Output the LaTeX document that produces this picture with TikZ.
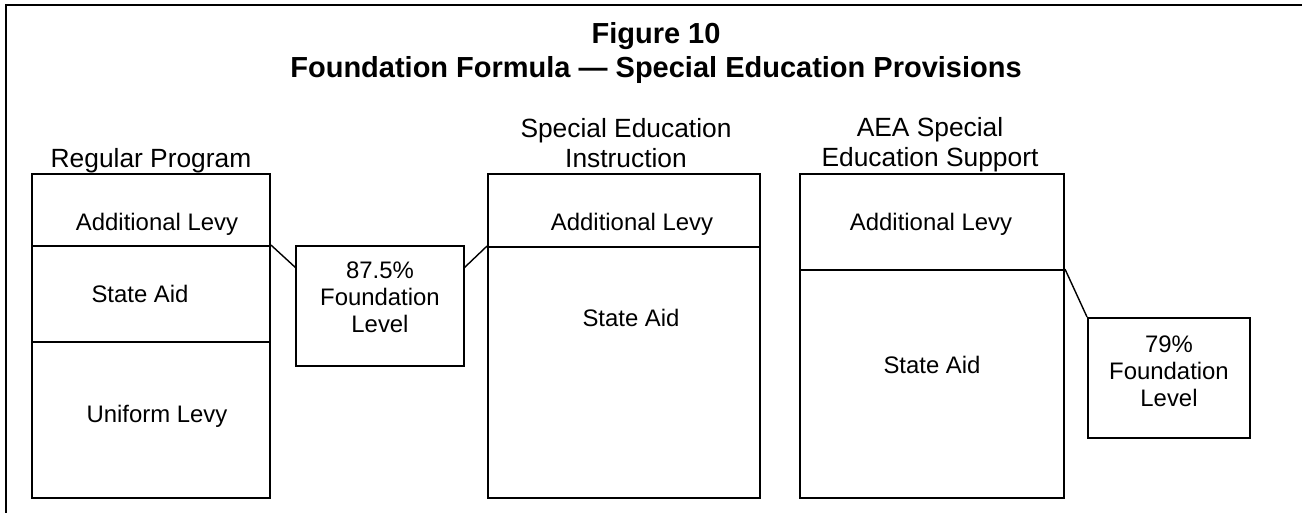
\documentclass[tikz,border=0pt]{standalone}
\usepackage{fontspec}
\setmainfont{Liberation Sans}
\usepackage{tikz}
\usetikzlibrary{positioning,fit}

\begin{document}
\begin{tikzpicture}[x=0.02cm,y=-0.02cm,
  seg/.style={draw,line width=1.1pt,inner sep=0pt},
  txt/.style={font=\fontsize{13.6}{15.4}\selectfont,inner sep=0pt},
  head/.style={font=\fontsize{15}{17}\selectfont,inner sep=0pt,align=center},
  link/.style={line width=0.8pt}]
\useasboundingbox (0,0) rectangle (1302,512);
\draw[line width=1.1pt] (6,514) |- (1304,5);

\node[font=\bfseries\fontsize{16.5}{19.3}\selectfont,align=center,inner sep=0pt] (title) at (656,53) {Figure 10\\Foundation Formula — Special Education Provisions};

\node[head,anchor=base] (rphead) at (151,167) {Regular Program};
\node[head] (sehead) at (626,143) {Special Education\\Instruction};
\node[head] (aeahead) at (930,145) {AEA Special\\Education Support};

% regular program
\node[seg,fit={(32,174) (270,246)}] (rpadd) {};
\node[seg,fit={(32,246) (270,342)}] (rpaid) {};
\node[seg,fit={(32,342) (270,498)}] (rpunif) {};
\node[txt,anchor=base] (rpaddtxt) at (157,230) {Additional Levy};
\node[txt,anchor=base] (rpaidtxt) at (140,302) {State Aid};
\node[txt,anchor=base] (rpuniftxt) at (157,422) {Uniform Levy};

% special education instruction
\node[seg,fit={(488,174) (760,247)}] (seadd) {};
\node[seg,fit={(488,247) (760,498)}] (seaid) {};
\node[txt,anchor=base] (seaddtxt) at (632,230) {Additional Levy};
\node[txt,anchor=base] (seaidtxt) at (631,326) {State Aid};

% aea support
\node[seg,fit={(800,174) (1064,270)}] (aeaadd) {};
\node[seg,fit={(800,270) (1064,498)}] (aeaaid) {};
\node[txt,anchor=base] (aeaaddtxt) at (931,230) {Additional Levy};
\node[txt,anchor=base] (aeaaidtxt) at (932,373) {State Aid};

% foundation levels
\node[seg,fit={(296,246) (464,366)}] (fl1) {};
\node[txt,align=center] (fl1txt) at (380,297) {87.5\%\\Foundation\\Level};
\node[seg,fit={(1088,318) (1250,438)}] (fl2) {};
\node[txt,align=center] (fl2txt) at (1169,371) {79\%\\Foundation\\Level};

\coordinate (fl1l) at (296,268);
\coordinate (fl1r) at (464,268);
\draw[link] (rpaid.north east) -- (fl1l);
\draw[link] (fl1r) -- (seaid.north west);
\draw[link] (aeaaid.north east) -- (fl2.north west);

\end{tikzpicture}
\end{document}
